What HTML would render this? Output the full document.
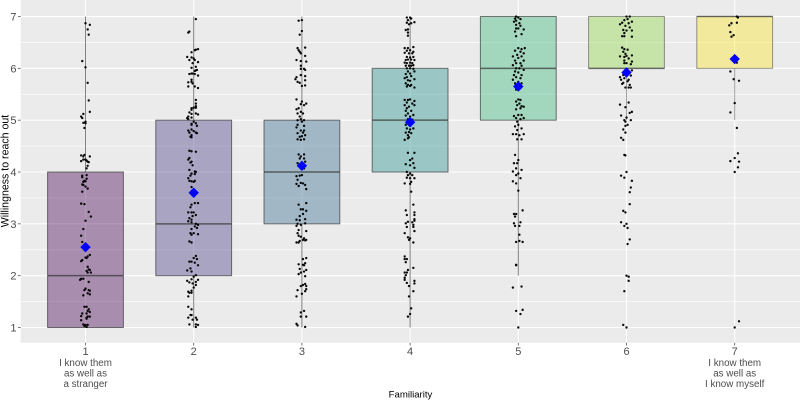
<!DOCTYPE html>
<html>
<head>
<meta charset="utf-8">
<style>
html,body{margin:0;padding:0;background:#fff;width:800px;height:400px;overflow:hidden}
svg{display:block;font-family:"Liberation Sans",sans-serif}
</style>
</head>
<body>
<svg id="chart" xmlns="http://www.w3.org/2000/svg" width="800" height="400" viewBox="0 0 800 400">
<rect x="20.7" y="0" width="779.3" height="342.8" fill="#EBEBEB"/>
<g id="grid"></g>
<g id="boxes"></g>
<g id="points"></g>
<g id="means"></g>
<g id="axes"></g>
<text transform="translate(8.5,171) rotate(-90)" text-anchor="middle" font-size="10.6" fill="#000">Willingness to reach out</text>
<text x="410.5" y="397.5" text-anchor="middle" font-size="9.6" fill="#000">Familiarity</text>
</svg>
<script>
const categories = [1, 2, 3, 4, 5, 6, 7];
const xTickLabels = [["1","I know them","as well as","a stranger"],["2"],["3"],["4"],["5"],["6"],["7","I know them","as well as","I know myself"]];
const yTicks = [1, 2, 3, 4, 5, 6, 7];
const yMinor = [1.5, 2.5, 3.5, 4.5, 5.5, 6.5];
const q1 = [1, 2, 3, 4, 5, 6, 6];
const medians = [2, 3, 4, 5, 6, 6, 7];
const q3 = [4, 5, 5, 6, 7, 7, 7];
const whiskerLow = [1, 1, 1, 1, 2, 5, 5];
const whiskerHigh = [7, 7, 7, 7, 7, 7, 7];
const means = [2.55, 3.6, 4.12, 4.96, 5.65, 5.92, 6.18];
const fills = ["#440154", "#443983", "#31688E", "#21908C", "#35B779", "#8FD744", "#FDE725"];
// each point: [horizontal jitter in hundredths of a category, response value with jitter]
const points1 = [[0,6.87],[4,6.84],[2,6.75],[3,6.65],[-3,6.14],[0,6.02],[2,5.72],[3,5.38],[4,5.16],[-2,5.12],[-4,5.07],[-3,5.04],[-2,4.95],[0,4.97],[0,4.94],[-1,4.85],[-1,4.33],[-4,4.32],[4,4.3],[-2,4.3],[-4,4.21],[-2,4.24],[0,4.24],[1,4.22],[2,4.2],[3,4.19],[2,4.12],[1,4.07],[-3,3.93],[-3,3.9],[1,3.94],[1,3.87],[-1,3.83],[-2,3.81],[0,3.82],[-3,3.76],[-2,3.75],[0,3.72],[2,3.68],[-3,3.62],[-4,3.39],[-1,3.38],[3,3.23],[5,3.14],[0,3.06],[-2,2.9],[-4,2.77],[-3,2.65],[4,2.4],[2,2.37],[0,2.35],[1,2.34],[-3,2.3],[-4,2.28],[2,2.17],[3,2.12],[1,2.09],[4,2.11],[2,2.06],[5,2.06],[-4,1.94],[-5,1.92],[-2,1.94],[3,1.88],[0,1.75],[-1,1.72],[3,1.72],[4,1.71],[2,1.66],[4,1.64],[-2,1.62],[-1,1.4],[1,1.4],[3,1.35],[2,1.32],[4,1.3],[1,1.27],[-3,1.27],[-4,1.22],[2,1.21],[1,1.19],[4,1.21],[-4,1.14],[1,1.17],[-2,1.06],[0,1.05],[2,1.05],[1,1.01],[-1,1.03]];
const points2 = [[2,6.95],[-5,6.69],[-4,6.71],[4,6.37],[1,6.35],[2,6.36],[-2,6.31],[-6,6.22],[-2,6.21],[0,6.19],[-4,6.16],[1,6.16],[4,6.12],[-1,6.1],[2,6.03],[-2,6.01],[3,5.97],[1,5.95],[-1,5.9],[-4,5.89],[-2,5.9],[1,5.89],[4,5.86],[2,5.96],[-2,5.78],[-5,5.73],[-2,5.74],[-1,5.71],[-5,5.65],[1,5.65],[4,5.62],[2,5.39],[2,5.32],[2,5.27],[2,5.24],[-2,5.23],[-2,5.2],[0,5.24],[-4,5.15],[2,5.13],[4,5.11],[-2,5.12],[-5,5.07],[-6,5.04],[-2,5.05],[-5,5.02],[0,4.97],[-2,4.93],[2,4.94],[3,4.89],[-2,4.91],[-2,4.82],[-5,4.8],[-4,4.76],[0,4.79],[2,4.76],[3,4.75],[-2,4.71],[-3,4.68],[-2,4.67],[-4,4.41],[-2,4.4],[2,4.39],[-4,4.27],[-5,4.24],[-2,4.2],[-3,4.18],[-1,4.13],[-4,4.04],[1,4.01],[-2,3.97],[2,4],[1,3.96],[-3,3.93],[-5,3.88],[-4,3.83],[0,3.81],[-2,3.82],[1,3.83],[-2,3.71],[4,3.4],[1,3.4],[-2,3.37],[-3,3.32],[-5,3.22],[0,3.22],[-2,3.22],[2,3.17],[-1,3.15],[-4,3.11],[-2,3.08],[-5,3.05],[-2,3.03],[2,3],[4,2.98],[1,2.95],[3,2.92],[-2,2.9],[-3,2.82],[0,2.82],[4,2.8],[-2,2.79],[-4,2.66],[-2,2.64],[2,2.38],[0,2.34],[3,2.32],[-4,2.27],[-2,2.27],[1,2.25],[4,2.2],[-3,2.14],[-6,2.1],[-2,2.08],[2,2.01],[0,1.98],[-2,1.93],[4,1.92],[-6,1.9],[-4,1.87],[2,1.88],[-1,1.85],[2,1.82],[0,1.77],[-2,1.71],[-5,1.69],[-4,1.67],[-2,1.67],[-5,1.6],[-5,1.4],[-2,1.35],[-3,1.24],[-2,1.24],[-5,1.19],[2,1.19],[-1,1.15],[3,1.15],[-4,1.06],[2,1.06],[4,1.05],[2,1.01]];
const points3 = [[-3,6.92],[0,6.93],[-2,6.65],[0,6.72],[-4,6.39],[-3,6.35],[3,6.4],[-2,6.32],[3,6.24],[-1,6.29],[-5,6.16],[-1,6.14],[4,6.13],[-1,6.05],[-1,5.99],[2,5.99],[3,5.97],[-1,5.87],[3,5.85],[-5,5.83],[-6,5.79],[-4,5.74],[-2,5.72],[3,5.77],[0,5.66],[3,5.67],[-5,5.4],[0,5.36],[-1,5.31],[4,5.32],[2,5.29],[-3,5.23],[-5,5.21],[-1,5.16],[1,5.13],[-4,5.13],[-2,5.07],[-1,5.02],[-4,5],[2,5],[0,4.97],[-4,4.91],[2,4.89],[-5,4.86],[-1,4.8],[2,4.8],[-4,4.75],[1,4.76],[3,4.71],[-2,4.68],[0,4.69],[-4,4.63],[2,4.63],[-1,4.62],[-3,4.34],[2,4.34],[-1,4.3],[-2,4.26],[2,4.26],[3,4.2],[-4,4.17],[2,4.07],[-1,4.07],[-5,3.92],[-2,3.93],[0,3.94],[-4,3.85],[-1,3.79],[-5,3.77],[1,3.78],[3,3.75],[-3,3.73],[4,3.67],[4,3.4],[-3,3.37],[-1,3.28],[1,3.28],[4,3.25],[-2,3.15],[1,3.19],[3,3.09],[-5,3.08],[-2,3.07],[-4,3],[-1,2.98],[-5,2.96],[3,3.01],[-3,2.88],[4,2.86],[-4,2.82],[-3,2.77],[-1,2.75],[2,2.72],[4,2.69],[1,2.69],[-2,2.67],[-5,2.64],[-3,2.64],[3,2.68],[1,2.32],[4,2.34],[3,2.24],[-3,2.22],[1,2.21],[2,2.2],[-2,2.13],[4,2.11],[2,2.08],[-3,2.03],[-1,2.06],[3,1.99],[1,1.82],[3,1.84],[-1,1.8],[4,1.8],[-4,1.72],[4,1.74],[3,1.7],[0,1.65],[-5,1.6],[2,1.32],[-1,1.29],[-1,1.21],[4,1.21],[-5,1.07],[-4,1.04],[3,1.01]];
const points4 = [[-3,6.98],[0,6.98],[1,6.96],[-2,6.93],[4,6.89],[-3,6.88],[1,6.87],[-1,6.85],[-2,6.75],[-4,6.74],[-2,6.69],[-2,6.63],[-5,6.39],[-2,6.39],[3,6.41],[-3,6.34],[0,6.35],[3,6.32],[-5,6.3],[-1,6.29],[2,6.29],[-3,6.22],[3,6.22],[0,6.21],[-4,6.16],[-2,6.17],[1,6.17],[4,6.16],[-5,6.11],[-3,6.1],[0,6.11],[2,6.1],[-1,6.05],[-4,6.05],[1,6.05],[3,6.06],[-3,6],[0,6],[3,5.99],[-2,5.94],[4,5.94],[-4,5.89],[0,5.9],[1,5.85],[-3,5.83],[4,5.79],[-5,5.81],[-2,5.77],[0,5.76],[-4,5.71],[-2,5.68],[1,5.68],[-3,5.65],[0,5.66],[4,5.63],[-5,5.39],[-2,5.39],[0,5.4],[4,5.37],[-3,5.34],[2,5.32],[-5,5.29],[4,5.29],[-1,5.26],[-3,5.23],[-4,5.18],[1,5.18],[-2,5.13],[3,5.1],[-4,5.09],[0,5.07],[-2,5.02],[2,5.01],[-1,4.93],[-4,4.91],[0,4.89],[-3,4.84],[0,4.82],[3,4.84],[-4,4.76],[-1,4.77],[1,4.75],[-2,4.71],[-1,4.67],[-5,4.62],[-2,4.65],[-2,4.37],[4,4.37],[-4,4.15],[0,4.23],[2,4.26],[3,4.17],[0,4.13],[4,4.08],[-3,4],[0,3.97],[-2,3.94],[2,3.94],[-3,3.89],[0,3.88],[4,3.88],[1,3.81],[-5,3.78],[0,3.77],[1,3.62],[3,3.37],[-4,3.26],[4,3.22],[-3,3.17],[4,3.17],[4,3.09],[4,3.06],[-2,3.04],[-4,3.01],[2,3.03],[3,2.98],[3,2.94],[-3,2.94],[4,2.86],[-5,2.82],[-2,2.74],[0,2.72],[-1,2.69],[3,2.64],[-5,2.37],[-3,2.32],[-5,2.32],[-4,2.26],[3,2.15],[-2,2.11],[-5,2.06],[-3,2.06],[-4,2.01],[-5,1.96],[-5,1.92],[4,1.9],[-3,1.86],[4,1.85],[-1,1.8],[3,1.7],[-1,1.6],[1,1.37],[0,1.26],[-2,1.21]];
const points5 = [[-2,7],[0,6.98],[-3,6.96],[2,6.95],[-2,6.92],[-4,6.9],[1,6.87],[-2,6.84],[2,6.82],[-2,6.77],[0,6.77],[5,6.75],[-3,6.71],[3,6.66],[-2,6.62],[6,6.39],[0,6.39],[3,6.37],[-3,6.34],[2,6.32],[5,6.29],[-1,6.26],[-5,6.23],[3,6.23],[0,6.2],[-3,6.15],[5,6.15],[-2,6.1],[2,6.1],[-5,6.06],[3,6.05],[-2,6],[1,6],[5,5.97],[-3,5.94],[0,5.92],[-4,5.87],[3,5.87],[-2,5.83],[2,5.81],[-5,5.78],[0,5.74],[-3,5.71],[3,5.71],[-1,5.66],[2,5.62],[-2,5.59],[0,5.4],[2,5.39],[-2,5.36],[1,5.32],[-1,5.29],[3,5.27],[-2,5.21],[2,5.23],[5,5.26],[-4,5.08],[0,5.1],[3,5.1],[-2,5.04],[2,5.02],[5,5.04],[-1,4.97],[0,4.91],[-3,4.88],[3,4.84],[-1,4.81],[-5,4.73],[-2,4.73],[1,4.71],[5,4.73],[-1,4.63],[3,4.63],[-3,4.33],[0,4.23],[-4,4.17],[-1,4.17],[-2,4.07],[3,4.04],[-5,4.01],[0,3.97],[-2,3.94],[-5,3.82],[2,3.88],[-2,3.78],[0,3.64],[4,3.26],[-4,3.19],[-2,3.19],[-3,3.14],[2,3.03],[-4,3.01],[1,2.96],[-3,2.96],[1,2.79],[-2,2.65],[1,2.67],[4,2.65],[-2,2.21],[-2,2.2],[-5,1.77],[3,1.79],[-2,1.32],[4,1.34],[2,1.26],[0,1]];
const points6 = [[0,7],[3,7],[1,6.95],[-2,6.93],[5,6.9],[-4,6.88],[-6,6.85],[2,6.87],[-1,6.82],[3,6.79],[-3,6.74],[5,6.73],[0,6.73],[-2,6.68],[-4,6.62],[-2,6.62],[5,6.61],[-4,6.4],[-2,6.37],[1,6.36],[-3,6.32],[-1,6.28],[0,6.24],[-6,6.23],[-2,6.22],[5,6.25],[2,6.19],[-2,6.15],[5,6.13],[0,6.1],[-2,6.1],[4,6.08],[5,5.96],[-3,5.87],[4,5.86],[-6,5.83],[-2,5.81],[2,5.78],[-5,5.78],[1,5.75],[-3,5.72],[3,5.68],[-4,5.7],[-1,5.63],[2,5.63],[4,5.63],[2,5.34],[-6,5.3],[-1,5.25],[5,5.16],[3,5.14],[-5,5.09],[0,5.05],[4,5],[-2,5],[-1,4.97],[1,4.91],[-1,4.89],[-3,4.82],[-1,4.76],[-5,4.66],[-3,4.62],[-2,4.33],[-1,4.32],[0,4],[-5,3.93],[-2,3.89],[5,3.83],[4,3.7],[3,3.61],[3,3.38],[-3,3.25],[-1,3.22],[-5,3.03],[0,3],[-2,2.96],[1,2.92],[3,2.7],[1,2.61],[0,2],[2,1.98],[2,1.9],[-2,1.7],[-3,1.05],[0,1]];
const points7 = [[2,7],[3,6.98],[2,6.88],[-3,6.87],[-5,6.83],[-4,6.7],[-1,6.64],[-3,6.61],[2,6.11],[-4,5.94],[-1,5.79],[4,5.76],[0,5.33],[-4,5.15],[2,4.85],[3,4.36],[0,4.27],[-4,4.21],[4,4.2],[3,4.09],[0,4],[4,1.12],[0,1]];
const pointSets = [points1, points2, points3, points4, points5, points6, points7];

const NS = "http://www.w3.org/2000/svg";
const panelLeft = 20.7, panelRight = 800, panelTop = 0, panelBottom = 342.8;
const catStep = 108.2, boxHalf = 37.9;
function xScale(cat) { return 85.5 + (cat - 1) * catStep; }
function yScale(v) { return 327.5 - (v - 1) * 51.83; }
function make(tag, parent, attrs) {
  const el = document.createElementNS(NS, tag);
  for (const k in attrs) el.setAttribute(k, attrs[k]);
  parent.appendChild(el);
  return el;
}
const grid = document.getElementById("grid");
const boxes = document.getElementById("boxes");
const pointsLayer = document.getElementById("points");
const meansLayer = document.getElementById("means");
const axes = document.getElementById("axes");

yMinor.forEach(function (v) {
  const l = make("line", grid, {x1: panelLeft, x2: panelRight, y1: yScale(v), y2: yScale(v), stroke: "#fff", "stroke-width": 0.9, "stroke-opacity": 0.75});
  
  
});
yTicks.forEach(function (v) {
  const y = yScale(v);
  const l = make("line", grid, {x1: panelLeft, x2: panelRight, y1: y, y2: y, stroke: "#fff", "stroke-width": 1.1});
  
  
  const t = make("line", axes, {x1: panelLeft - 2.7, x2: panelLeft, y1: y, y2: y, stroke: "#555", "stroke-width": 0.8});
  
  
  const lab = make("text", axes, {x: 16.5, y: y + 4, "text-anchor": "end", "font-size": 11, fill: "#4D4D4D"});
  lab.textContent = v;
  
  
});
categories.forEach(function (c, i) {
  const x = xScale(c);
  const g = make("line", grid, {x1: x, x2: x, y1: panelTop, y2: panelBottom, stroke: "#fff", "stroke-width": 1.1});
  
  
  const t = make("line", axes, {x1: x, x2: x, y1: panelBottom, y2: panelBottom + 2.7, stroke: "#555", "stroke-width": 0.8});
  
  
  xTickLabels[i].forEach(function (line, j) {
    const lab = make("text", axes, {x: x, y: (j === 0 ? 355 : 355.5 + j * 10.5), "text-anchor": "middle", "font-size": (j === 0 ? 11 : 9.8), fill: "#4D4D4D"});
    lab.textContent = line;
    
    
  });

  const edge = i >= 5 ? 0.45 : 0.62;
  const hiW = make("line", boxes, {x1: x, x2: x, y1: yScale(whiskerHigh[i]), y2: yScale(q3[i]), stroke: "#333", "stroke-opacity": edge, "stroke-width": 1});
  
  
  const loW = make("line", boxes, {x1: x, x2: x, y1: yScale(q1[i]), y2: yScale(whiskerLow[i]), stroke: "#333", "stroke-opacity": edge, "stroke-width": 1});
  
  
  const box = make("rect", boxes, {x: x - boxHalf, y: yScale(q3[i]), width: boxHalf * 2, height: yScale(q1[i]) - yScale(q3[i]), fill: fills[i], "fill-opacity": 0.4, stroke: "#333", "stroke-opacity": edge + 0.05, "stroke-width": 1});
  
  
  const med = make("line", boxes, {x1: x - boxHalf, x2: x + boxHalf, y1: yScale(medians[i]), y2: yScale(medians[i]), stroke: "#333", "stroke-opacity": edge + 0.1, "stroke-width": 1.5});
  
  

  pointSets[i].forEach(function (p) {
    const dot = make("circle", pointsLayer, {cx: x + p[0] * catStep / 100, cy: yScale(p[1]), r: 1.2, fill: "#000", "fill-opacity": 0.95});
    
    
  });
  const mx = x, my = yScale(means[i]), d = 5.2;
  const m = make("polygon", meansLayer, {points: [mx, my - d, mx + d, my, mx, my + d, mx - d, my].join(" "), fill: "#0000FF"});
  
  
});
</script>
</body>
</html>
